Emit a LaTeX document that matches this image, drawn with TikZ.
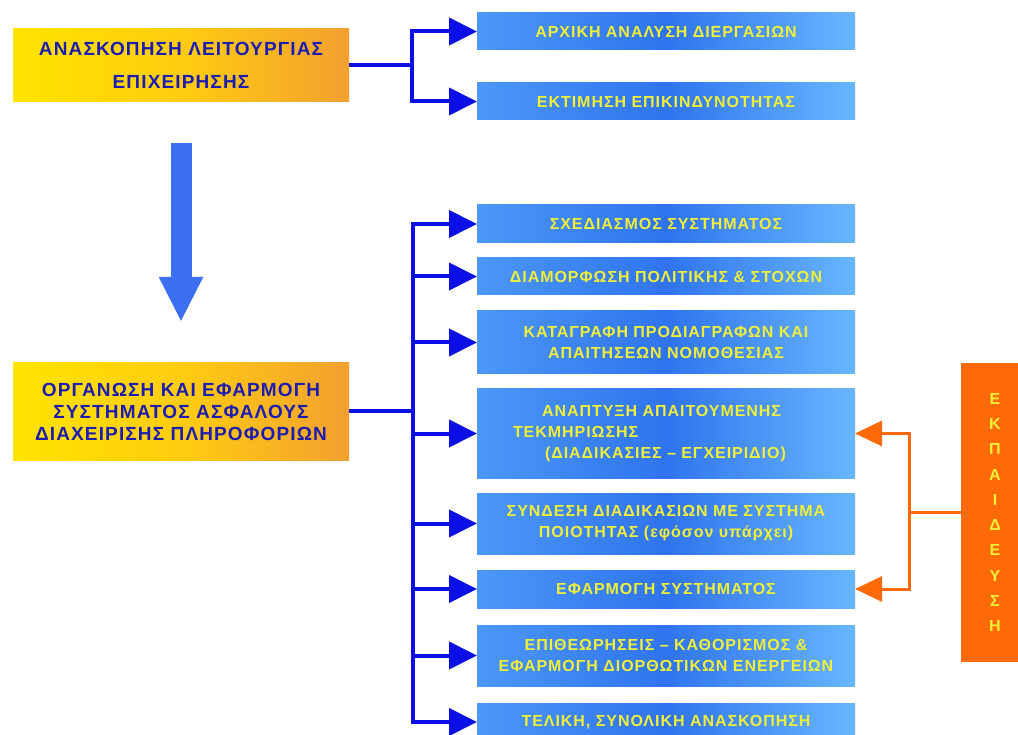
\documentclass[tikz,border=0pt]{standalone}
\usepackage{fontspec}
\setmainfont{Liberation Sans}
\usetikzlibrary{arrows.meta}
\definecolor{ylL}{HTML}{FFE400}
\definecolor{ylM}{HTML}{FFCC10}
\definecolor{ylR}{HTML}{F2A030}
\definecolor{blL}{HTML}{4C98F8}
\definecolor{blM}{HTML}{2F74EE}
\definecolor{blR}{HTML}{68B6FF}
\definecolor{txtblue}{HTML}{1C1CB0}
\definecolor{txtyel}{HTML}{F0F038}
\definecolor{conblue}{HTML}{0A10E6}
\definecolor{bigblue}{HTML}{3D6FF2}
\definecolor{orng}{HTML}{FF6A08}
\tikzset{
  ybox/.style={inner sep=0pt, outer sep=0pt, minimum width=336pt,
    left color=ylL, right color=ylR, middle color=ylM,
    font=\bfseries\fontsize{19}{22}\selectfont\addfontfeatures{LetterSpace=6}, text=txtblue, align=center},
  bbox/.style={inner sep=0pt, outer sep=0pt, minimum width=378pt,
    left color=blL, right color=blR, middle color=blM,
    font=\bfseries\fontsize{16}{21}\selectfont\addfontfeatures{LetterSpace=6}, text=txtyel, align=center},
  obox/.style={inner sep=0pt, outer sep=0pt, minimum width=68pt, fill=orng,
    font=\bfseries\fontsize{16}{25.3}\selectfont, text=txtyel, align=center},
  bcon/.style={draw=conblue, line width=4pt, -{Triangle[length=28pt,width=27pt]}},
  bline/.style={draw=conblue, line width=4pt},
  ocon/.style={draw=orng, line width=3pt, -{Triangle[length=27pt,width=25pt]}},
  oline/.style={draw=orng, line width=3pt},
  bigarrow/.style={draw=bigblue, line width=21pt, -{Triangle[length=45pt,width=41pt]}}
}
\begin{document}
\begin{tikzpicture}[x=1pt,y=-1pt]
\useasboundingbox (0,0) rectangle (1018,735);
% left boxes
\node[ybox, minimum height=73pt] (tl) at (181,65.5) {ΑΝΑΣΚΟΠΗΣΗ ΛΕΙΤΟΥΡΓΙΑΣ\\[11pt]ΕΠΙΧΕΙΡΗΣΗΣ};
\node[ybox, minimum height=97pt] (ml) at (181,411.5) {ΟΡΓΑΝΩΣΗ ΚΑΙ ΕΦΑΡΜΟΓΗ\\ΣΥΣΤΗΜΑΤΟΣ ΑΣΦΑΛΟΥΣ\\ΔΙΑΧΕΙΡΙΣΗΣ ΠΛΗΡΟΦΟΡΙΩΝ};
% top right boxes
\node[bbox, minimum height=37pt] (a1) at (666,31.5) {ΑΡΧΙΚΗ ΑΝΑΛΥΣΗ ΔΙΕΡΓΑΣΙΩΝ};
\node[bbox, minimum height=37pt] (a2) at (666,101.5) {ΕΚΤΙΜΗΣΗ ΕΠΙΚΙΝΔΥΝΟΤΗΤΑΣ};
% lower right boxes
\node[bbox, minimum height=38pt] (b1) at (666,224) {ΣΧΕΔΙΑΣΜΟΣ ΣΥΣΤΗΜΑΤΟΣ};
\node[bbox, minimum height=37pt] (b2) at (666,276.5) {ΔΙΑΜΟΡΦΩΣΗ ΠΟΛΙΤΙΚΗΣ \& ΣΤΟΧΩΝ};
\node[bbox, minimum height=63pt] (b3) at (666,342.5) {ΚΑΤΑΓΡΑΦΗ ΠΡΟΔΙΑΓΡΑΦΩΝ ΚΑΙ\\ΑΠΑΙΤΗΣΕΩΝ ΝΟΜΟΘΕΣΙΑΣ};
\node[bbox, minimum height=89pt, text width=306pt, align=left] (b4) at (666,433.5) {\hspace*{29pt}ΑΝΑΠΤΥΞΗ ΑΠΑΙΤΟΥΜΕΝΗΣ\\ΤΕΚΜΗΡΙΩΣΗΣ\\\hspace*{32pt}(ΔΙΑΔΙΚΑΣΙΕΣ – ΕΓΧΕΙΡΙΔΙΟ)};
\node[bbox, minimum height=61pt] (b5) at (666,523.5) {ΣΥΝΔΕΣΗ ΔΙΑΔΙΚΑΣΙΩΝ ΜΕ ΣΥΣΤΗΜΑ\\ΠΟΙΟΤΗΤΑΣ (εφόσον υπάρχει)};
\node[bbox, minimum height=38pt] (b6) at (666,589) {ΕΦΑΡΜΟΓΗ ΣΥΣΤΗΜΑΤΟΣ};
\node[bbox, minimum height=61pt] (b7) at (666,655.5) {ΕΠΙΘΕΩΡΗΣΕΙΣ – ΚΑΘΟΡΙΣΜΟΣ \&\\ΕΦΑΡΜΟΓΗ ΔΙΟΡΘΩΤΙΚΩΝ ΕΝΕΡΓΕΙΩΝ};
\node[bbox, minimum height=38pt] (b8) at (666,722) {ΤΕΛΙΚΗ, ΣΥΝΟΛΙΚΗ ΑΝΑΣΚΟΠΗΣΗ};
% training box
\node[obox, minimum height=299pt] (ed) at (995,512.5) {Ε\\Κ\\Π\\Α\\Ι\\Δ\\Ε\\Υ\\Σ\\Η};
% big arrow
\draw[bigarrow] ([yshift=-41pt]tl.south) -- ([yshift=41pt]ml.north);
% top connectors
\coordinate (j1) at (412,65.5);
\draw[bline] (tl.east) -- (j1);
\draw[bcon] (j1) |- (a1.west);
\draw[bcon] (j1) |- (a2.west);
% lower connectors
\coordinate (j2) at (413,411.5);
\draw[bline] (ml.east) -- (j2);
\foreach \b in {b1,b2,b3,b4,b5,b6,b7,b8}{
  \draw[bcon] (j2) |- (\b.west);
}
% orange connectors
\coordinate (j3) at (909,512.5);
\draw[oline] (ed.west) -- (j3);
\draw[ocon] (j3) |- (b4.east);
\draw[ocon] (j3) |- (b6.east);
\end{tikzpicture}
\end{document}
